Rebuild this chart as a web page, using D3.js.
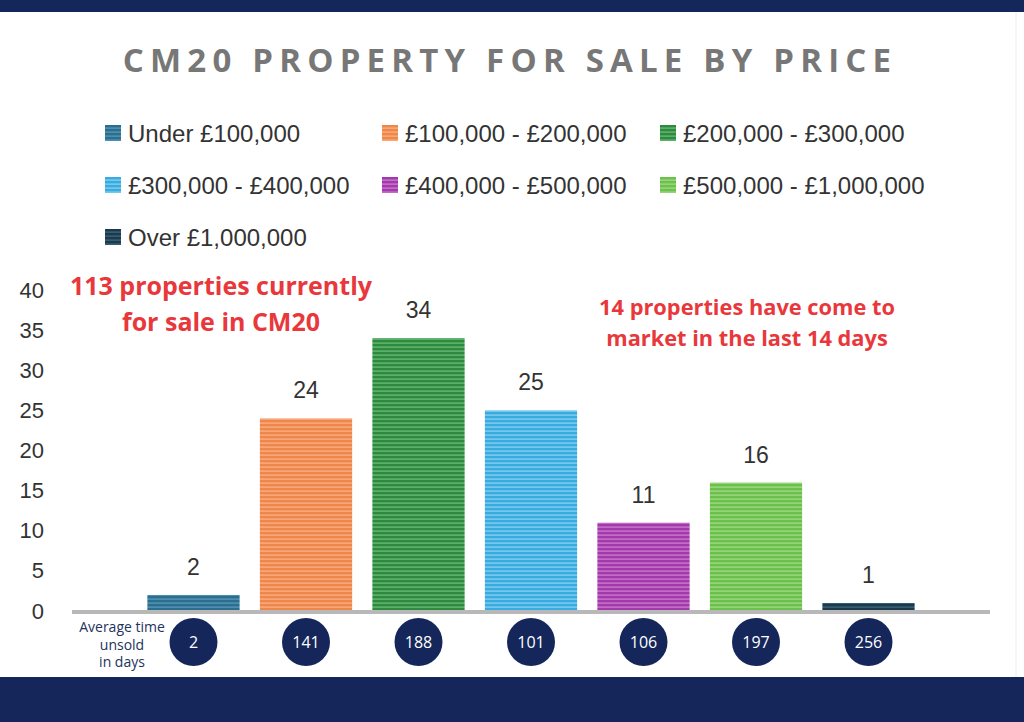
<!DOCTYPE html>
<html>
<head>
<meta charset="utf-8">
<script src="https://cdn.jsdelivr.net/npm/d3@7"></script>
<style>
  body { margin: 0; background: #fff; }
  svg { display: block; }
</style>
</head>
<body>
<div id="chart"></div>
<script>
// data
const categories = ["Under £100,000", "£100,000 - £200,000", "£200,000 - £300,000",
    "£300,000 - £400,000", "£400,000 - £500,000", "£500,000 - £1,000,000", "Over £1,000,000"];
const counts = [2, 24, 34, 25, 11, 16, 1];
const daysUnsold = [2, 141, 188, 101, 106, 197, 256];
const yTicks = [0, 5, 10, 15, 20, 25, 30, 35, 40];
const barColors = ["#2b6e90", "#f0874a", "#2f8a3f", "#38ace0", "#a33aab", "#6cc04c", "#1c3a4d"];
const stripeColors = ["#5d9bbb", "#f9b48a", "#6cc17a", "#8fd4f2", "#cf7fd3", "#a6dd8c", "#3f6a80"];
const note1 = ["113 properties currently", "for sale in CM20"];
const note2 = ["14 properties have come to", "market in the last 14 days"];
const daysLabel = ["Average time", "unsold", "in days"];

const W = 1024, H = 722;
const navy = "#14265a";

const svg = d3.select('#chart')
    .append('svg')
    .attr('width', W)
    .attr('height', H);

// stripe patterns for bars
const defs = svg.append('defs');
categories.forEach((c, i) => {
    const p = defs.append('pattern')
        .attr('id', 'stripe' + i)
        .attr('patternUnits', 'userSpaceOnUse')
        .attr('width', 10)
        .attr('height', 4);
    p.append('rect').attr('width', 10).attr('height', 4).attr('fill', barColors[i]);
    p.append('rect').attr('y', 2.5).attr('width', 10).attr('height', 1.2).attr('fill', stripeColors[i]);
});

// frame bands
svg.append('rect').attr('x', 0).attr('y', 0).attr('width', W).attr('height', 12).attr('fill', navy);
svg.append('rect').attr('x', 0).attr('y', 677).attr('width', W).attr('height', H - 677).attr('fill', navy);
svg.append('line')
    .attr('x1', 1016).attr('x2', 1016).attr('y1', 12).attr('y2', 677)
    .attr('stroke', '#ececec').attr('stroke-width', 1);

// title
svg.append('text')
    .attr('x', 510)
    .attr('y', 72)
    .attr('text-anchor', 'middle')
    .style('font-family', 'Open Sans, sans-serif')
    .style('font-weight', 700)
    .style('font-size', '33px')
    .style('letter-spacing', '6.2px')
    .attr('fill', '#777777')
    .text('CM20 PROPERTY FOR SALE BY PRICE');

// legend
const legendCols = [105, 382, 660];
const legendRows = [133, 185, 237];
const legend = svg.append('g')
    .selectAll('g')
    .data(categories)
    .enter()
    .append('g')
    .attr('transform', (d, i) => 'translate(' + legendCols[i % 3] + ',' + legendRows[Math.floor(i / 3)] + ')');
legend.append('rect')
    .attr('x', 0).attr('y', -8)
    .attr('width', 16).attr('height', 16)
    .attr('fill', (d, i) => 'url(#stripe' + i + ')');
legend.append('text')
    .attr('x', 23)
    .attr('y', 9)
    .style('font-family', 'Liberation Sans, Arial, sans-serif')
    .style('font-size', '24px')
    .attr('fill', '#333')
    .text(d => d);

// scales
const x = d3.scaleBand()
    .domain(categories)
    .range([72, 990])
    .paddingInner(0.18)
    .paddingOuter(0.67);

const y = d3.scaleLinear()
    .domain([0, 40])
    .range([611, 290]);

// y axis
const yAxis = svg.append('g')
    .attr('transform', 'translate(72,0)')
    .call(d3.axisLeft(y).tickValues(yTicks).tickSize(0).tickPadding(28));
yAxis.select('.domain').remove();
yAxis.selectAll('text')
    .style('font-family', 'Liberation Sans, Arial, sans-serif')
    .style('font-size', '22px')
    .attr('fill', '#333');

// bars
svg.append('g')
    .selectAll('rect')
    .data(counts)
    .enter()
    .append('rect')
    .attr('x', (d, i) => x(categories[i]))
    .attr('y', d => y(d))
    .attr('width', x.bandwidth())
    .attr('height', d => y(0) - y(d))
    .attr('fill', (d, i) => 'url(#stripe' + i + ')');

// baseline
svg.append('line')
    .attr('x1', 72).attr('x2', 990)
    .attr('y1', y(0) + 1).attr('y2', y(0) + 1)
    .attr('stroke', '#b8b8b8')
    .attr('stroke-width', 4);

// value labels
svg.append('g')
    .selectAll('text')
    .data(counts)
    .enter()
    .append('text')
    .attr('x', (d, i) => x(categories[i]) + x.bandwidth() / 2)
    .attr('y', d => y(d) - 20)
    .attr('text-anchor', 'middle')
    .style('font-family', 'Liberation Sans, Arial, sans-serif')
    .style('font-size', '23px')
    .attr('fill', '#333')
    .text(d => d);

// average days circles
const dots = svg.append('g')
    .selectAll('g')
    .data(daysUnsold)
    .enter()
    .append('g')
    .attr('transform', (d, i) => 'translate(' + (x(categories[i]) + x.bandwidth() / 2) + ',642)');
dots.append('circle')
    .attr('r', 24)
    .attr('fill', navy);
dots.append('text')
    .attr('y', 5.5)
    .attr('text-anchor', 'middle')
    .style('font-family', 'Open Sans, sans-serif')
    .style('font-size', '16px')
    .attr('fill', '#fff')
    .text(d => d);

svg.append('text')
    .attr('text-anchor', 'middle')
    .style('font-family', 'Open Sans, sans-serif')
    .style('font-size', '14px')
    .attr('fill', '#22335c')
    .selectAll('tspan')
    .data(daysLabel)
    .enter()
    .append('tspan')
    .attr('x', 122)
    .attr('y', (d, i) => 632 + i * 17.5)
    .text(d => d);

// red notes
function note(lines, cx, y0, dy, size) {
    svg.append('text')
        .attr('text-anchor', 'middle')
        .style('font-family', 'Open Sans, sans-serif')
        .style('font-weight', 700)
        .style('font-size', size + 'px')
        .attr('fill', '#e8383c')
        .selectAll('tspan')
        .data(lines)
        .enter()
        .append('tspan')
        .attr('x', cx)
        .attr('y', (d, i) => y0 + i * dy)
        .text(d => d);
}
note(note1, 221, 295, 36, 25);
note(note2, 747, 315, 31, 21.8);
</script>
</body>
</html>
